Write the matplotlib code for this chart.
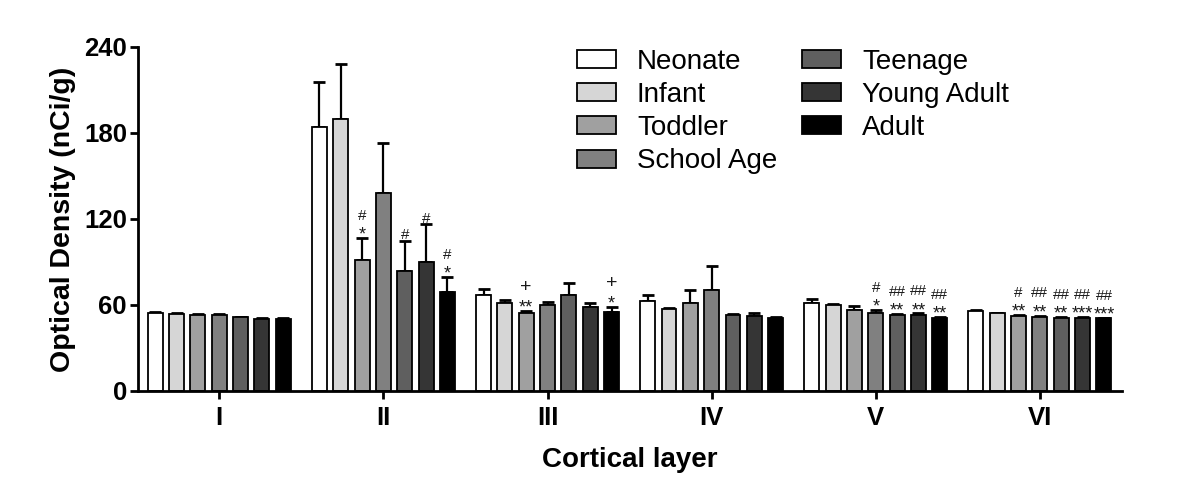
import numpy as np
import matplotlib
matplotlib.use("Agg")
import matplotlib.pyplot as plt

plt.rcParams['font.family'] = ['Liberation Sans', 'DejaVu Sans']

layers = ["I", "II", "III", "IV", "V", "VI"]
ages = ["Neonate", "Infant", "Toddler", "School Age", "Teenage", "Young Adult", "Adult"]
colors = ["#ffffff", "#d6d6d6", "#a0a0a0", "#808080", "#5f5f5f", "#353535", "#000000"]

# mean optical density per age group, one value per layer
neonate = [54.2, 184.4, 67.2, 63.0, 61.2, 55.6]
infant = [53.9, 189.6, 61.6, 57.0, 60.2, 54.2]
toddler = [52.8, 91.2, 54.2, 61.2, 56.5, 52.3]
school_age = [53.0, 138.4, 59.8, 70.5, 54.6, 51.9]
teenage = [51.4, 83.5, 67.2, 53.0, 53.0, 51.2]
young_adult = [50.5, 89.8, 58.4, 52.3, 53.3, 51.2]
adult = [50.5, 69.3, 55.1, 51.2, 51.2, 50.7]

# SEM (upper error only)
neonate_err = [1.0, 31.2, 3.8, 4.2, 3.2, 0.8]
infant_err = [0.8, 38.8, 2.1, 1.0, 0.8, 0.4]
toddler_err = [0.8, 15.3, 1.4, 9.3, 2.6, 0.6]
school_age_err = [0.8, 34.9, 2.3, 17.0, 1.9, 0.6]
teenage_err = [0.5, 21.2, 7.9, 0.7, 0.7, 0.5]
young_adult_err = [0.5, 26.5, 3.2, 1.9, 0.8, 0.5]
adult_err = [0.5, 10.0, 3.5, 0.5, 0.3, 0.3]

means = [neonate, infant, toddler, school_age, teenage, young_adult, adult]
errs = [neonate_err, infant_err, toddler_err, school_age_err, teenage_err, young_adult_err, adult_err]

# significance marks: (age index, layer index, marks from bottom to top)
marks = [
    (2, 1, ["*", "#"]), (4, 1, ["#"]), (5, 1, ["#"]), (6, 1, ["*", "#"]),
    (2, 2, ["**", "+"]), (6, 2, ["*", "+"]),
    (3, 4, ["*", "#"]), (4, 4, ["**", "##"]), (5, 4, ["**", "##"]), (6, 4, ["**", "##"]),
    (2, 5, ["**", "#"]), (3, 5, ["**", "##"]), (4, 5, ["**", "##"]),
    (5, 5, ["***", "##"]), (6, 5, ["***", "##"]),
]

fig = plt.figure(figsize=(12, 4.97), dpi=100)
ax = fig.add_axes([0.115, 0.2133, 0.82, 0.6922])

x = np.arange(len(layers))
step = 0.130
width = 0.091

for i, (m, e, c, lab) in enumerate(zip(means, errs, colors, ages)):
    pos = x + (i - 3) * step
    ax.bar(pos, m, width, color=c, edgecolor="black", linewidth=1.3, label=lab, zorder=2)
    ax.errorbar(pos, m, yerr=[np.zeros(len(e)), e], fmt="none", ecolor="black",
                elinewidth=1.6, capsize=4, capthick=2.0, zorder=1)

for i, j, syms in marks:
    px = x[j] + (i - 3) * step
    top = means[i][j] + errs[i][j]
    for k, s in enumerate(syms):
        if s == "+":
            fs, dy = 14, 0
        elif "*" in s:
            fs, dy = 13, -3
        else:
            fs, dy = 11, 0
        off = -1 + k * 12 + dy
        ax.annotate(s, (px, top), xytext=(0, off), textcoords="offset points",
                    ha="center", va="bottom", fontsize=fs, color="#1a1a1a")

ax.set_xlim(-0.495, 5.5)
ax.set_ylim(0, 240)
ax.set_yticks([0, 60, 120, 180, 240])
ax.set_xticks(x)
ax.set_xticklabels(layers)

for s in ["top", "right"]:
    ax.spines[s].set_visible(False)
for s in ["left", "bottom"]:
    ax.spines[s].set_linewidth(2.0)

ax.tick_params(axis="both", width=2.0, length=6, labelsize=18.5)
ax.tick_params(axis="x", pad=5)
ax.tick_params(axis="y", pad=2)
for t in ax.get_xticklabels() + ax.get_yticklabels():
    t.set_fontweight("bold")

ax.set_ylabel("Optical Density (nCi/g)", fontsize=20.5, fontweight="bold", labelpad=6)
ax.set_xlabel("Cortical layer", fontsize=20, fontweight="bold", labelpad=12)

leg = ax.legend(ncol=2, loc="upper left", bbox_to_anchor=(0.481, 0.902),
                bbox_transform=fig.transFigure, frameon=False, fontsize=20,
                handlelength=1.4, handleheight=0.62, handletextpad=0.75,
                labelspacing=0.26, columnspacing=0.9, borderpad=0, borderaxespad=0)
for p in leg.get_patches():
    p.set_linewidth(1.3)

fig.savefig("out.png", dpi=100, facecolor="white")
